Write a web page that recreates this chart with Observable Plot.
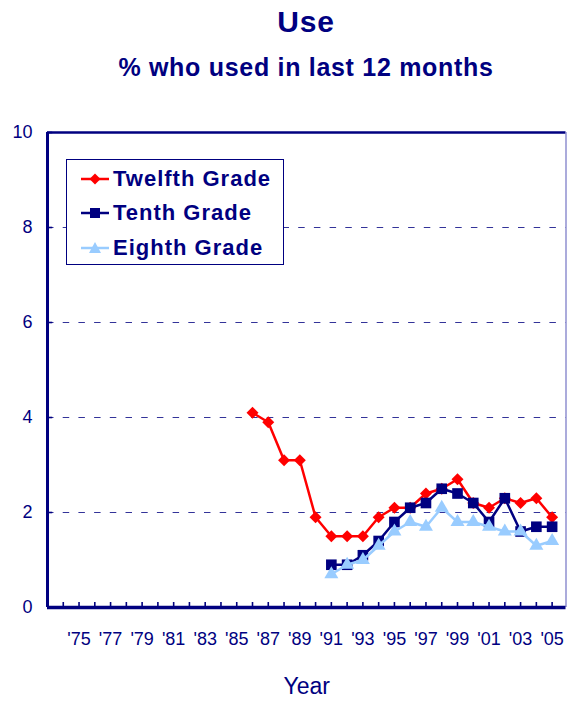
<!DOCTYPE html>
<html>
<head>
<meta charset="utf-8">
<script src="https://cdn.jsdelivr.net/npm/d3@7"></script>
<script src="https://cdn.jsdelivr.net/npm/@observablehq/plot@0.6"></script>
<style>
  html, body { margin: 0; padding: 0; background: #fff; }
  #wrap { position: relative; width: 567px; height: 702px; overflow: hidden; background: #fff;
          font-family: "Liberation Sans", Arial, sans-serif; color: #000080; }
  .ttl { position: absolute; left: 47px; width: 518px; text-align: center; font-weight: bold; white-space: nowrap; }
  #title { top: 7px; font-size: 30px; line-height: 30px; letter-spacing: 0.8px; }
  #subtitle { top: 55px; font-size: 25px; line-height: 25px; letter-spacing: 0.7px; }
  #chart svg { position: absolute; left: 0; top: 100px; }
  #legend { position: absolute; left: 66px; top: 159px; width: 216px; height: 104px;
            border: 1px solid #000080; background: #fff; }
  .row { position: absolute; left: 0; width: 216px; height: 22px; }
  .row svg { position: absolute; left: 14px; top: 0px; }
  .row span { position: absolute; left: 46px; top: 0; font-size: 22px; line-height: 22px;
              font-weight: bold; letter-spacing: 1px; white-space: nowrap; color: #000080; }
</style>
</head>
<body>
<div id="wrap">
  <div id="title" class="ttl">Use</div>
  <div id="subtitle" class="ttl">% who used in last 12 months</div>
  <div id="chart"></div>
  <div id="legend"></div>
</div>
<script>
// ---- data ----
const seriesNames = ["Twelfth Grade", "Tenth Grade", "Eighth Grade"];
const seriesColors = ["#ff0000", "#000080", "#99ccff"];
const seriesSymbols = ["diamond2", "square", "triangle"];

const twelfthYears = [1986, 1987, 1988, 1989, 1990, 1991, 1992, 1993, 1994, 1995, 1996, 1997, 1998, 1999, 2000, 2001, 2002, 2003, 2004, 2005];
const twelfthValues = [4.1, 3.9, 3.1, 3.1, 1.9, 1.5, 1.5, 1.5, 1.9, 2.1, 2.1, 2.4, 2.5, 2.7, 2.2, 2.1, 2.3, 2.2, 2.3, 1.9];

const tenthYears = [1991, 1992, 1993, 1994, 1995, 1996, 1997, 1998, 1999, 2000, 2001, 2002, 2003, 2004, 2005];
const tenthValues = [0.9, 0.9, 1.1, 1.4, 1.8, 2.1, 2.2, 2.5, 2.4, 2.2, 1.8, 2.3, 1.6, 1.7, 1.7];

const eighthYears = [1991, 1992, 1993, 1994, 1995, 1996, 1997, 1998, 1999, 2000, 2001, 2002, 2003, 2004, 2005];
const eighthValues = [0.7, 0.9, 1.0, 1.3, 1.6, 1.8, 1.7, 2.1, 1.8, 1.8, 1.7, 1.6, 1.6, 1.3, 1.4];

const yTicks = [0, 2, 4, 6, 8, 10];
const gridValues = [2, 4, 6, 8];
const xTickYears = [1974, 1975, 1976, 1977, 1978, 1979, 1980, 1981, 1982, 1983, 1984, 1985, 1986, 1987, 1988, 1989,
                    1990, 1991, 1992, 1993, 1994, 1995, 1996, 1997, 1998, 1999, 2000, 2001, 2002, 2003, 2004, 2005];
const xLabelYears = [1975, 1977, 1979, 1981, 1983, 1985, 1987, 1989, 1991, 1993, 1995, 1997, 1999, 2001, 2003, 2005];
const xLabels = ["'75", "'77", "'79", "'81", "'83", "'85", "'87", "'89", "'91", "'93", "'95", "'97", "'99", "'01", "'03", "'05"];
const xDomain = [1973, 2005.88];
const yDomain = [0, 10];
const xTitle = "Year";

// ---- build tables ----
const mk = (years, values, s) => years.map((yr, i) => ({year: yr, value: values[i], series: s}));
const tables = [
  mk(twelfthYears, twelfthValues, seriesNames[0]),
  mk(tenthYears, tenthValues, seriesNames[1]),
  mk(eighthYears, eighthValues, seriesNames[2])
];
const symbolR = [5.4, 6.0, 5.2];

const navy = "#000080";
const seriesMarks = tables.flatMap((t, i) => [
  Plot.line(t, {x: "year", y: "value", stroke: seriesColors[i], strokeWidth: 2.5}),
  Plot.dot(t, {x: "year", y: "value", symbol: seriesSymbols[i], r: symbolR[i], fill: seriesColors[i], stroke: "none"})
]);

const chart = Plot.plot({
  width: 567,
  height: 602,
  marginTop: 32,
  marginBottom: 95,
  marginLeft: 47,
  marginRight: 1.5,
  x: {domain: xDomain},
  y: {domain: yDomain},
  style: {fontFamily: "'Liberation Sans', Arial, sans-serif", fontSize: "18px", color: navy, background: "transparent", overflow: "visible"},
  marks: [
    Plot.ruleY(gridValues, {stroke: navy, strokeOpacity: 0.8, strokeWidth: 1.2, strokeDasharray: "6.5,9.2"}),
    Plot.ruleY([yDomain[1]], {stroke: navy, strokeWidth: 2.5}),
    Plot.ruleX([xDomain[1]], {stroke: "#7373c4", strokeWidth: 1.2}),
    Plot.ruleX(xTickYears, {y1: 0, y2: 0.105, stroke: navy, strokeWidth: 1.6}),
    Plot.ruleY(gridValues.concat([10]), {x1: xDomain[0], x2: xDomain[0] + 0.33, stroke: navy, strokeWidth: 1.6}),
    ...seriesMarks,
    Plot.ruleX([xDomain[0]], {stroke: navy, strokeWidth: 3}),
    Plot.ruleY([0], {stroke: navy, strokeWidth: 3.5}),
    Plot.axisY({ticks: yTicks, tickSize: 0, tickPadding: 15, label: null, fill: navy, fontSize: 18}),
    Plot.axisX({ticks: xLabelYears, tickSize: 0, tickPadding: 25, label: null, fill: navy, fontSize: 18,
                tickFormat: d => xLabels[xLabelYears.indexOf(d)]}),
    Plot.text([xTitle], {text: d => d, frameAnchor: "bottom", dy: 86, fontSize: 23, fill: navy})
  ]
});
document.getElementById("chart").appendChild(chart);

// ---- legend ----
const legend = document.getElementById("legend");
const rowTops = [8, 42, 77];
const markerY = 11;
const symPaths = [
  "M14,5.5 L19.5,11 L14,16.5 L8.5,11 Z",
  "M9,6 H19 V16 H9 Z",
  "M14,5 L20,16 H8 Z"
];
seriesNames.forEach((name, i) => {
  const row = document.createElement("div");
  row.className = "row";
  row.style.top = rowTops[i] + "px";
  row.innerHTML = `<svg width="28" height="22" viewBox="0 0 28 22">
      <line x1="0" x2="28" y1="${markerY}" y2="${markerY}" stroke="${seriesColors[i]}" stroke-width="2.5"/>
      <path d="${symPaths[i]}" fill="${seriesColors[i]}"/>
    </svg><span>${name}</span>`;
  legend.appendChild(row);
});
</script>
</body>
</html>
